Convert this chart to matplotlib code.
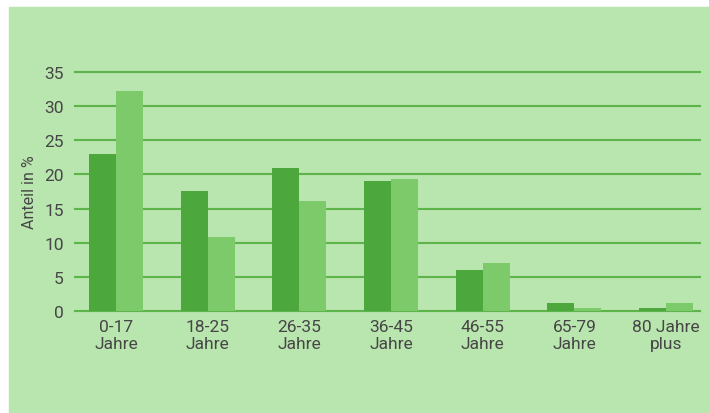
import matplotlib
matplotlib.use('Agg')
import matplotlib.pyplot as plt
import numpy as np

# age groups and shares (percent), two series
categories = ['0-17\nJahre', '18-25\nJahre', '26-35\nJahre', '36-45\nJahre',
              '46-55\nJahre', '65-79\nJahre', '80 Jahre\nplus']
dark_values = [23.0, 17.6, 20.9, 19.0, 6.0, 1.2, 0.5]
light_values = [32.2, 10.9, 16.1, 19.4, 7.0, 0.5, 1.1]
y_ticks = [0, 5, 10, 15, 20, 25, 30, 35]

BG = '#b9e5ae'
DARK = '#4ca83c'
LIGHT = '#7dca6b'
GRID = '#5db44b'
TEXT = '#464646'

plt.rcParams['font.family'] = ['Roboto', 'DejaVu Sans']

fig = plt.figure(figsize=(7.09, 4.14), dpi=100)
fig.patch.set_facecolor('white')
# green panel with a thin white margin at top and left
fig.patches.append(plt.Rectangle((9 / 709, 0), 1, (414 - 8) / 414,
                                 transform=fig.transFigure, color=BG, zorder=-10))

ax = fig.add_axes([75 / 709, (414 - 312) / 414, 625 / 709, (312 - 73) / 414])
ax.set_facecolor('none')
ax.set_zorder(5)

x = np.arange(len(categories))
w = 0.295
for yv in y_ticks:
    ax.axhline(yv, color=GRID, lw=1.5, zorder=1, clip_on=False)
ax.bar(x - w / 2, dark_values, width=w, color=DARK, zorder=2)
ax.bar(x + w / 2, light_values, width=w, color=LIGHT, zorder=2)

ax.set_ylim(0, 35)
ax.set_xlim(-0.447, 6.371)
ax.set_yticks(y_ticks)
ax.set_xticks(x)
ax.set_xticklabels(categories, linespacing=1.15)
ax.tick_params(axis='both', length=0, colors=TEXT, labelsize=12.5)
ax.tick_params(axis='y', pad=8)
ax.tick_params(axis='x', pad=6)
for s in ax.spines.values():
    s.set_visible(False)
ax.set_ylabel('Anteil in %', color=TEXT, fontsize=11.5, labelpad=5)

fig.savefig('out.png', dpi=100)
